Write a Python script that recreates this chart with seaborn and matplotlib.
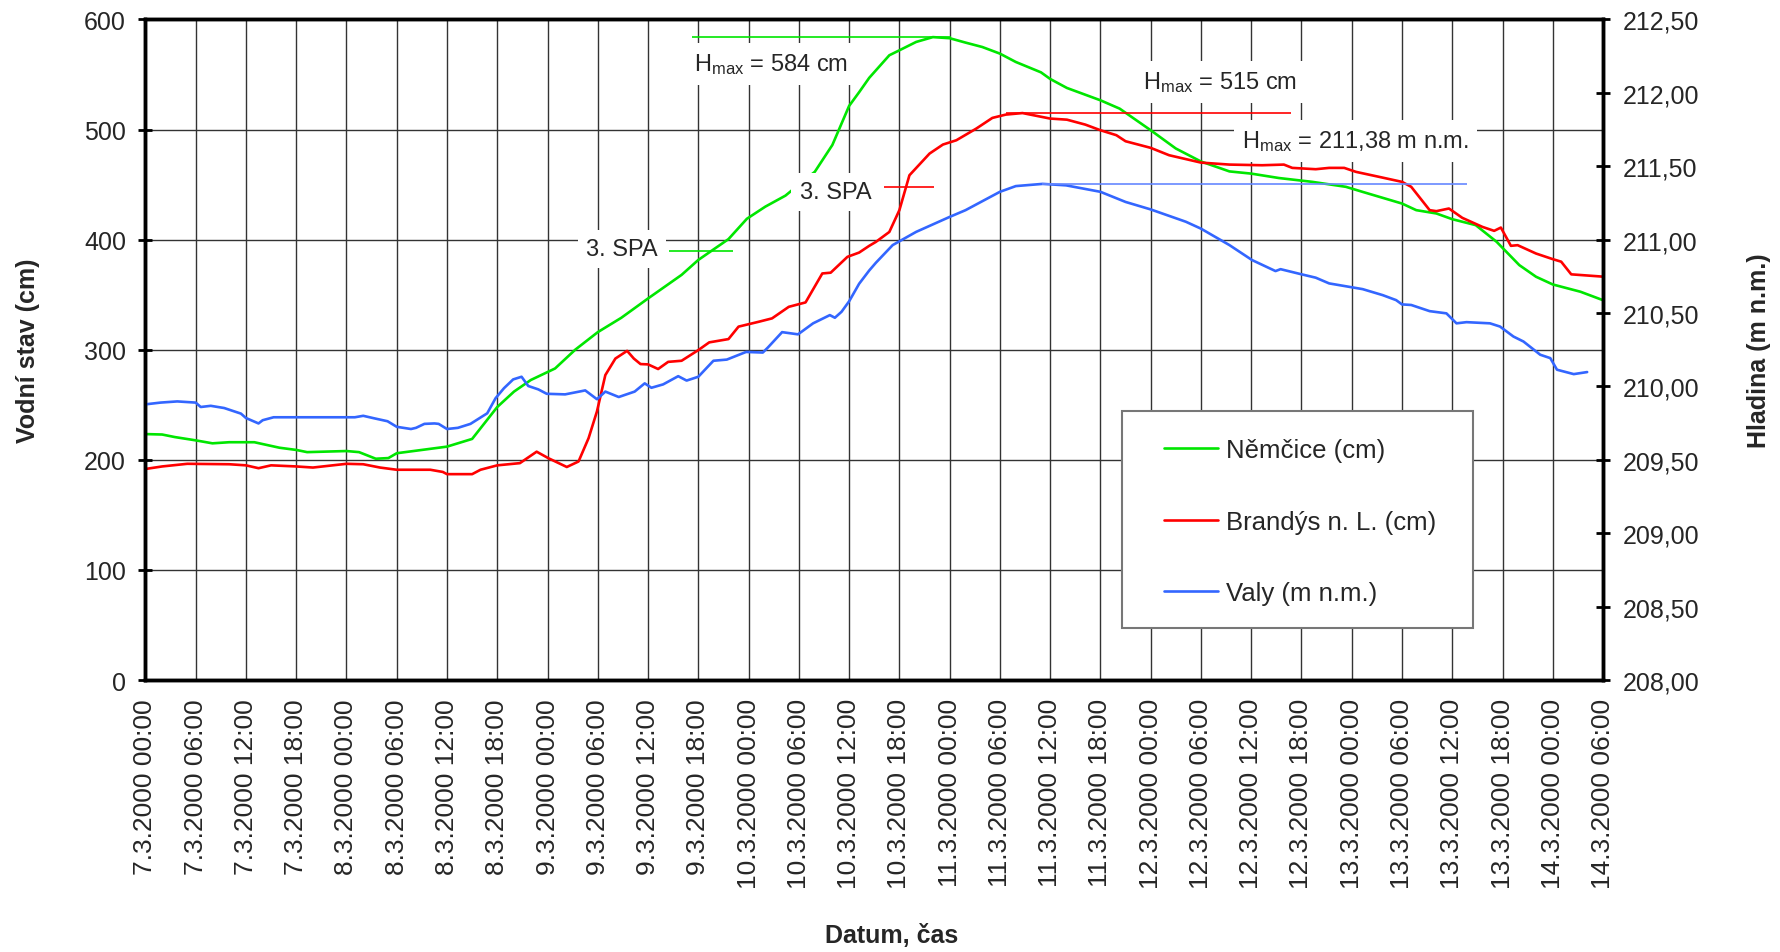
import pandas as pd
import matplotlib
matplotlib.use('Agg')
import matplotlib.pyplot as plt
from matplotlib.patches import Rectangle
import seaborn as sns

sns.set_style('white')
plt.rcParams['font.family'] = ['Liberation Sans', 'DejaVu Sans']
plt.rcParams['mathtext.fontset'] = 'custom'
plt.rcParams['mathtext.rm'] = 'Liberation Sans'
plt.rcParams['mathtext.it'] = 'Liberation Sans:italic'
plt.rcParams['mathtext.bf'] = 'Liberation Sans:bold'

START = pd.Timestamp('2000-03-07 00:00')
END = pd.Timestamp('2000-03-14 06:00')

# Němčice (cm) - hodiny od 7.3.2000 00:00
nem_hours = [0, 2, 3.5, 6, 8, 10, 13, 16, 18, 19.3, 24, 25.5, 27.5, 29, 30, 36, 39, 42,
             44, 46, 48.9, 51.3, 54, 56.8, 60, 64, 66, 69.6, 71.8, 74, 76.4, 78, 79.9,
             82, 84, 85.2, 86.4, 88.8, 90, 92, 94, 96, 97.9, 99.9, 102, 103.9, 106.9,
             108, 110, 114, 116.3, 120, 123, 126, 129.4, 132, 135.3, 139.3, 143.3,
             145.3, 150, 151.7, 154.1, 156, 158.8, 161.3, 164, 166, 168, 171.3, 174]
nem_cm = [223.4, 223, 220.7, 217.7, 215, 216, 216, 211, 209, 207, 208, 207, 201, 201.6,
          206, 212, 219, 248, 262, 272.5, 283, 300, 316, 329, 346.6, 368, 381.6, 400.5,
          419, 430, 440, 450, 461.6, 486, 521.5, 534, 547, 567.5, 572, 579.6, 584, 583,
          579, 575, 569, 561.4, 552, 546, 537.8, 526.6, 519, 499.4, 482.8, 471, 462,
          460, 456, 452.5, 448, 443.4, 432.8, 426.8, 423.8, 418.6, 413.2, 398, 376.9,
          366.3, 359.3, 352.7, 345]

# Brandýs n. L. (cm)
bra_hours = [0, 2, 5, 10, 12, 13.5, 15, 18, 20, 24, 26, 28, 30, 34, 35.5, 36, 39, 40,
             42, 44.7, 46.7, 48.1, 50.3, 51.7, 52.9, 53.9, 54.9, 56.1, 57.5, 58.3, 59.1,
             60, 61.2, 62.4, 64, 66, 67.3, 69.6, 70.8, 73.2, 74.8, 76.8, 78.8, 80.8,
             81.8, 83.8, 85.2, 86.4, 87.2, 88.8, 90, 91.2, 93.6, 95.2, 96.8, 99.2,
             101.1, 102.7, 104.7, 108, 110, 112.2, 114, 115.9, 117, 120, 122.2, 126,
             129.4, 133.3, 135.9, 136.9, 139.7, 141.3, 143.1, 144.5, 147.3, 150, 151.1,
             153.3, 154.1, 155.6, 157.2, 159.6, 161, 161.8, 163, 163.8, 166, 168, 169,
             170.2, 174]
bra_cm = [191.7, 194, 196.4, 196, 195, 192.4, 195, 194, 193, 196.4, 196, 193, 191, 191,
          189, 187, 187, 191, 195, 197, 207.4, 201.5, 193.5, 198.5, 219.7, 244, 277, 292,
          299, 292, 287, 286.7, 282.5, 289, 290, 299.7, 306.7, 309.7, 321, 325.4, 328.5,
          339, 343, 369.3, 370, 384.4, 388.3, 394.4, 398, 407, 426.8, 458.5, 478.2,
          486.4, 490.3, 501, 510.6, 513.6, 515, 510, 509, 504.5, 499.4, 494.9, 489.4,
          483.4, 476.7, 470, 468.2, 467.6, 468.2, 465.2, 464, 465.2, 465.2, 461.6, 457,
          452.5, 448, 426.8, 425.9, 428.3, 419.8, 411.6, 408, 411, 394.4, 395, 387.4,
          382.3, 380, 368.5, 366.4]

# Valy (m n.m.)
valy_hours = [0, 1.8, 3.8, 6, 6.6, 7.8, 9.4, 11.4, 12, 13.5, 14, 15.3, 25, 26, 27.3,
              28.9, 30, 31.7, 32.3, 33.3, 34.5, 35, 36, 37.3, 38.8, 40.8, 41.8, 42.8,
              43.9, 44.9, 45.7, 46.9, 47.9, 50.1, 52.5, 53.9, 54.9, 56.5, 58.4, 59.6,
              60.4, 61.8, 63.6, 64.6, 66, 67.8, 69.4, 71.7, 73.7, 74.3, 76, 77.9, 79.7,
              81.7, 82.3, 83.1, 84, 85.2, 86.4, 87.2, 89.2, 92, 96, 97.9, 102, 103.9,
              107.1, 109.9, 114, 117, 120, 124.2, 126, 129.4, 132.1, 134.9, 135.5, 138,
              139.7, 141.3, 145.3, 147.7, 149.3, 150, 151.1, 153.3, 155.3, 156.5, 157.7,
              160.5, 161.7, 163.3, 164.5, 166.5, 167.7, 168.5, 170.5, 172.1]
valy_m = [209.878, 209.89, 209.898, 209.89, 209.86, 209.868, 209.853, 209.815, 209.785,
          209.748, 209.77, 209.79, 209.79, 209.80, 209.783, 209.763, 209.725, 209.71,
          209.718, 209.745, 209.748, 209.745, 209.71, 209.718, 209.745, 209.817, 209.92,
          209.988, 210.048, 210.066, 210.003, 209.98, 209.95, 209.946, 209.973, 209.913,
          209.965, 209.928, 209.965, 210.021, 209.991, 210.014, 210.07, 210.04, 210.066,
          210.175, 210.183, 210.235, 210.231, 210.265, 210.37, 210.355, 210.43, 210.486,
          210.468, 210.509, 210.58, 210.70, 210.79, 210.843, 210.963, 211.053, 211.155,
          211.201, 211.326, 211.365, 211.38, 211.37, 211.326, 211.257, 211.206, 211.122,
          211.075, 210.963, 210.861, 210.786, 210.799, 210.764, 210.741, 210.702,
          210.663, 210.622, 210.588, 210.559, 210.555, 210.513, 210.498, 210.43, 210.438,
          210.43, 210.408, 210.34, 210.306, 210.216, 210.193, 210.114, 210.084, 210.098]

# maxima a 3. SPA
hmax_nem = 584
hmax_bra = 515
hmax_valy = 211.38
spa3_nem = 390
spa3_bra = 448

left_ticks = [0, 100, 200, 300, 400, 500, 600]
right_ticks = [208.0, 208.5, 209.0, 209.5, 210.0, 210.5, 211.0, 211.5, 212.0, 212.5]
right_tick_labels = ['208,00', '208,50', '209,00', '209,50', '210,00', '210,50',
                     '211,00', '211,50', '212,00', '212,50']

C_NEM = '#00e600'
C_BRA = '#ff0000'
C_VALY = '#3366ff'


def to_time(hours):
    return START + pd.to_timedelta(hours, unit='h')


def at(h):
    return START + pd.Timedelta(hours=h)


fig = plt.figure(figsize=(17.8, 9.53), dpi=100)
ax = fig.add_axes([0.0817, 0.2854, 0.8189, 0.6931])
ax2 = ax.twinx()

sns.lineplot(x=to_time(nem_hours), y=nem_cm, ax=ax, color=C_NEM, lw=1.9,
             label='Němčice (cm)', legend=False)
sns.lineplot(x=to_time(bra_hours), y=bra_cm, ax=ax, color=C_BRA, lw=1.9,
             label='Brandýs n. L. (cm)', legend=False)
sns.lineplot(x=to_time(valy_hours), y=valy_m, ax=ax2, color=C_VALY, lw=1.9,
             label='Valy (m n.m.)', legend=False)

# osy
tick_times = pd.date_range(START, END, freq='6h')
tick_labels = [f"{t.day}.{t.month}.{t.year} {t:%H:%M}" for t in tick_times]
ax.set_xlim(START, END)
ax.set_xticks(tick_times)
ax.set_xticklabels(tick_labels, rotation=90, fontsize=19)
ax.set_ylim(0, 600)
ax.set_yticks(left_ticks)
ax.tick_params(axis='y', labelsize=18)
ax2.set_ylim(208, 212.5)
ax2.set_yticks(right_ticks)
ax2.set_yticklabels(right_tick_labels, fontsize=18)

for a in (ax, ax2):
    for s in a.spines.values():
        s.set_visible(True)
        s.set_color('black')
        s.set_linewidth(2.5)
    a.tick_params(direction='inout', length=10, width=2, color='black', pad=9)
ax.tick_params(axis='x', pad=8)

ax.set_axisbelow(True)
ax.grid(True, color='#333333', lw=1.0)

ax.set_xlabel('Datum, čas', fontsize=18, fontweight='bold')
ax.xaxis.set_label_coords(0.512, -0.368)
ax.set_ylabel('Vodní stav (cm)', fontsize=18, fontweight='bold')
ax.yaxis.set_label_coords(-0.072, 0.5)
ax2.set_ylabel('Hladina (m n.m.)', fontsize=18, fontweight='bold')
ax2.yaxis.set_label_coords(1.099, 0.5)

# Hmax a 3. SPA
ax.hlines(hmax_nem, at(65.2), at(96.2), color=C_NEM, lw=1.2, zorder=3)
ax.hlines(hmax_bra, at(102.7), at(136.7), color=C_BRA, lw=1.2, zorder=3)
ax2.hlines(hmax_valy, at(107), at(157.8), color='#6688ff', lw=1.2, zorder=3)
ax.hlines(spa3_nem, at(62.5), at(70.1), color=C_NEM, lw=1.2, zorder=3)
ax.hlines(spa3_bra, at(88.2), at(94.1), color=C_BRA, lw=1.2, zorder=3)

box = dict(facecolor='white', edgecolor='none', pad=6)
ax.text(at(65.5), 559.6, r'H$_{\mathrm{max}}$ = ' + f'{hmax_nem} cm', fontsize=17,
        ha='left', va='center', bbox=box, zorder=5)
ax.text(at(119.1), 543.2, r'H$_{\mathrm{max}}$ = ' + f'{hmax_bra} cm', fontsize=17,
        ha='left', va='center', bbox=box, zorder=5)
ax.text(at(130.9), 489.6,
        r'H$_{\mathrm{max}}$ = ' + f'{hmax_valy:.2f}'.replace('.', ',') + ' m n.m.',
        fontsize=17, ha='left', va='center', bbox=box, zorder=5)
ax.text(at(52.6), 391.5, '3. SPA', fontsize=17, ha='left', va='center',
        bbox=box, zorder=5)
ax.text(at(78.1), 443.3, '3. SPA', fontsize=17, ha='left', va='center',
        bbox=box, zorder=5)

# legenda - vlastni ramecek
frame = Rectangle((0.6302, 0.340), 0.1974, 0.228, transform=fig.transFigure,
                  facecolor='white', edgecolor='#777777', lw=1.5, zorder=5)
fig.patches.append(frame)

h1, l1 = ax.get_legend_handles_labels()
h2, l2 = ax2.get_legend_handles_labels()
leg = fig.legend(h1 + h2, l1 + l2, loc='upper left', bbox_to_anchor=(0.6539, 0.5396),
                 bbox_transform=fig.transFigure, fontsize=18.5, frameon=False,
                 borderpad=0, labelspacing=1.86, handlelength=2.1, handletextpad=0.3,
                 borderaxespad=0)
leg.set_zorder(6)

fig.savefig('out.png', dpi=100)
